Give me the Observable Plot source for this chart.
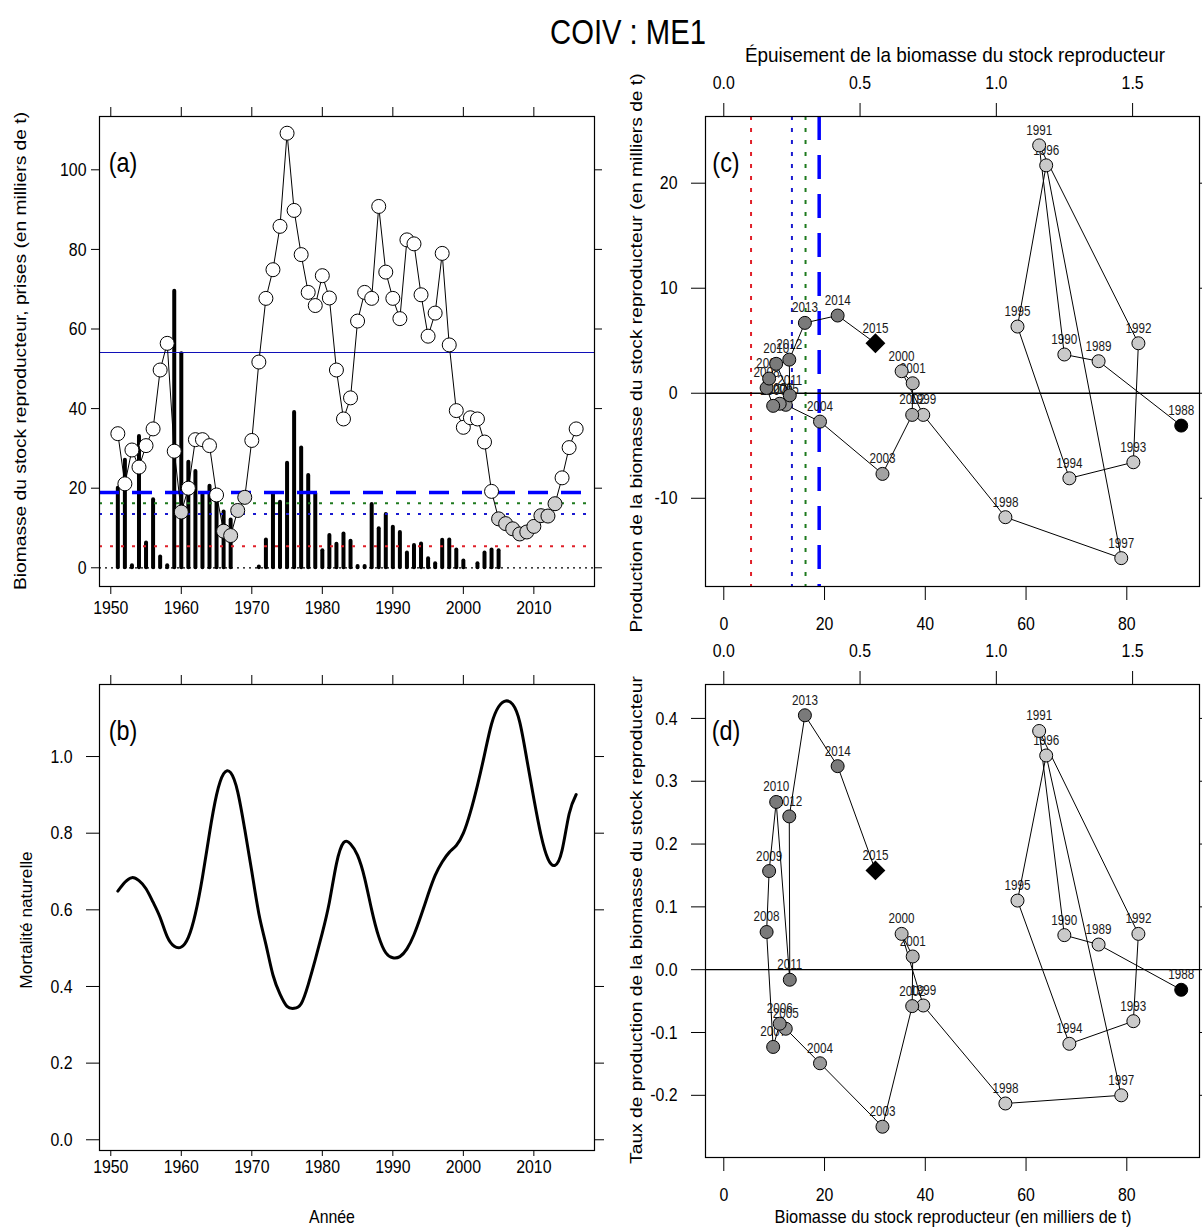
<!DOCTYPE html>
<html lang="fr">
<head>
<meta charset="utf-8">
<title>COIV : ME1</title>
<script src="https://cdn.jsdelivr.net/npm/d3@7"></script>
<script src="https://cdn.jsdelivr.net/npm/@observablehq/plot@0.6"></script>
<style>
  html, body { margin: 0; padding: 0; background: #fff; }
  #root { position: relative; width: 1202px; height: 1228px; overflow: hidden; background: #fff;
          font-family: "Liberation Sans", Arial, Helvetica, sans-serif; color: #000; }
  #root svg { position: absolute; left: 0; top: 0; overflow: visible; }
  .lbl { position: absolute; white-space: nowrap; line-height: 1; }
</style>
</head>
<body>
<div id="root"></div>
<script>
// ---------------- DATA ----------------
const years = [1951,1952,1953,1954,1955,1956,1957,1958,1959,1960,
  1961,1962,1963,1964,1965,1966,1967,1968,1969,1970,
  1971,1972,1973,1974,1975,1976,1977,1978,1979,1980,
  1981,1982,1983,1984,1985,1986,1987,1988,1989,1990,
  1991,1992,1993,1994,1995,1996,1997,1998,1999,2000,
  2001,2002,2003,2004,2005,2006,2007,2008,2009,2010,
  2011,2012,2013,2014,2015,2016];

// spawning stock biomass (thousand t)
const biomass = [33.7,21.1,29.6,25.3,30.7,34.9,49.7,56.4,29.3,14.0,
  20.0,32.2,32.2,30.7,18.3,9.2,8.1,14.4,17.7,32.0,
  51.7,67.7,74.9,85.8,109.2,89.8,78.7,69.2,65.9,73.4,
  67.8,49.7,37.4,42.7,62.0,69.2,67.7,90.8,74.3,67.7,
  62.6,82.4,81.4,68.6,58.2,64.0,79.0,56.0,39.5,35.3,
  37.7,37.4,31.6,19.2,12.3,11.1,9.8,8.5,9.0,10.4,
  13.1,13.0,16.1,22.6,30.2,34.9];

// catches (thousand t), null = no record
const catches = [20.0,27.0,0.5,33.0,6.2,17.1,2.7,0.5,69.5,53.8,
  26.5,24.2,18.4,20.5,16.7,14.0,12.0,null,null,null,
  0.2,7.0,18.6,16.5,26.3,39.0,30.1,23.2,18.7,4.3,
  8.1,5.9,8.5,6.7,0.3,0.3,15.9,9.8,13.4,10.2,
  8.9,3.7,5.6,6.0,2.3,1.0,6.9,7.0,4.5,1.7,
  null,1.0,3.7,4.5,4.3,null,null,null,null,null,
  null,null,null,null,null,null];

// years drawn with grey symbols in panel (a)
const greyYears = [1960,1966,1967,1968,1969,2005,2006,2007,2008,2009,2010,2011,2012,2013];

// natural mortality
const mortality = [0.649,0.672,0.684,0.676,0.655,0.620,0.580,0.530,0.505,0.503,
  0.528,0.590,0.685,0.800,0.900,0.955,0.958,0.908,0.810,0.700,
  0.590,0.510,0.430,0.380,0.348,0.343,0.355,0.405,0.470,0.540,
  0.620,0.720,0.775,0.772,0.742,0.683,0.600,0.530,0.488,0.475,
  0.478,0.498,0.535,0.585,0.640,0.690,0.725,0.750,0.768,0.800,
  0.855,0.925,1.005,1.085,1.130,1.145,1.136,1.090,0.993,0.890,
  0.796,0.733,0.716,0.755,0.850,0.901];

// reference points
const B0 = 54.1;
const refFractions = [0.10, 0.25, 0.30, 0.35];
const depletionTicks = [0, 0.5, 1.0, 1.5];

// production panels (c) and (d)
const prodYears = [1988,1989,1990,1991,1992,1993,1994,1995,1996,1997,
  1998,1999,2000,2001,2002,2003,2004,2005,2006,2007,
  2008,2009,2010,2011,2012,2013,2014,2015];
const prodBiomass = [90.8,74.4,67.6,62.6,82.3,81.3,68.6,58.3,64.0,78.9,
  55.9,39.6,35.3,37.5,37.4,31.5,19.1,12.3,11.1,9.8,
  8.5,9.0,10.4,13.1,13.0,16.1,22.6,30.1];
const production = [-3.08,3.05,3.69,23.6,4.76,-6.57,-8.10,6.35,21.7,-15.7,
  -11.8,-2.06,2.10,0.95,-2.06,-7.68,-2.70,-1.1,-1.0,-1.2,
  0.5,1.4,2.8,-0.2,3.2,6.7,7.4,4.76];
const prodRate = [-0.032,0.040,0.055,0.380,0.057,-0.082,-0.118,0.110,0.341,-0.200,
  -0.213,-0.057,0.057,0.021,-0.058,-0.250,-0.149,-0.094,-0.086,-0.123,
  0.060,0.157,0.267,-0.016,0.244,0.405,0.324,0.158];

// axis ticks
const yearTicks = [1950,1960,1970,1980,1990,2000,2010];
const bioTicks = [0,20,40,60,80,100];
const mTicks = [0,0.2,0.4,0.6,0.8,1.0];
const bTicks = [0,20,40,60,80];
const pTicks = [-10,0,10,20];
const rTicks = [-0.2,-0.1,0,0.1,0.2,0.3,0.4];

// ---------------- DRAWING ----------------
const W = 1202, H = 1228;
const FONT = '"Liberation Sans", Arial, Helvetica, sans-serif';
const K = 0.835;      // horizontal glyph compression
const FS = 19;        // tick label size
const root = document.getElementById("root");

const series = years.map((y, i) => ({year: y, b: biomass[i], c: catches[i], m: mortality[i]}));
const catchRows = series.filter(d => d.c != null);
const prodRows = prodYears.map((y, i) => ({year: y, b: prodBiomass[i], p: production[i], r: prodRate[i]}));
const refRows = refFractions.map(f => ({f, v: f * B0}));

function squeeze(svg, k) {
  svg.querySelectorAll("text").forEach(t => {
    const L = t.getComputedTextLength();
    if (L > 0) {
      t.setAttribute("textLength", (L * k).toFixed(2));
      t.setAttribute("lengthAdjust", "spacingAndGlyphs");
    }
  });
}

function addPlot(frame, xd, yd, marks) {
  const svg = Plot.plot({
    width: W, height: H,
    marginLeft: frame[0], marginRight: W - frame[1], marginTop: frame[2], marginBottom: H - frame[3],
    x: {domain: xd}, y: {domain: yd},
    color: {type: "identity"},
    style: {fontFamily: FONT, fontSize: FS + "px", color: "black", background: "transparent", overflow: "visible"},
    marks
  });
  root.appendChild(svg);
  squeeze(svg, K);
  return svg;
}

function axes(o) {
  return [
    Plot.axisX({anchor: "bottom", ticks: o.xt, tickSize: o.bTick, tickPadding: o.bPad, tickFormat: o.xf, fontSize: FS, label: null}),
    Plot.axisX({anchor: "top", ticks: o.topT || o.xt, tickSize: o.tTick, tickPadding: o.tPad || 3, tickFormat: o.topF || (() => ""), fontSize: FS, label: null}),
    Plot.axisY({anchor: "left", ticks: o.yt, tickSize: o.lTick, tickPadding: o.lPad, tickFormat: o.yf, fontSize: FS, label: null}),
    Plot.axisY({anchor: "right", ticks: o.yt, tickSize: o.rTick, tickFormat: () => "", label: null})
  ];
}

function label(txt, cx, cy, size, opts = {}) {
  const d = document.createElement("div");
  d.className = "lbl";
  d.textContent = txt;
  d.style.fontSize = size + "px";
  d.style.left = cx + "px";
  d.style.top = cy + "px";
  d.style.transform = opts.rotate
    ? `translate(-50%,-50%) rotate(-90deg) scale(${opts.stretch || 1.2},1)`
    : `translate(-50%,-50%) scale(${opts.k || K},1)`;
  root.appendChild(d);
}

const refStyle = [
  {stroke: "#e0202a", strokeWidth: 2, strokeDasharray: "3,8"},
  {stroke: "#1a1ad0", strokeWidth: 2, strokeDasharray: "3,8"},
  {stroke: "#1e7a1e", strokeWidth: 2, strokeDasharray: "3,8"},
  {stroke: "#0000ff", strokeWidth: 3.5, strokeDasharray: "20,13"}
];

// ---------- Panel (a) ----------
addPlot([99, 594, 116, 586], [1948.4, 2018.6], [-4.7, 113.4], [
  Plot.ruleX(catchRows, {x: "year", y1: 0, y2: "c", stroke: "black", strokeWidth: 4, strokeLinecap: "round"}),
  Plot.ruleY([0], {stroke: "black", strokeWidth: 1.2, strokeDasharray: "2,4"}),
  ...refRows.map((r, i) => Plot.ruleY([r.v], refStyle[i])),
  Plot.ruleY([B0], {stroke: "#1010b8", strokeWidth: 1.2}),
  Plot.line(series, {x: "year", y: "b", stroke: "black", strokeWidth: 1}),
  Plot.dot(series, {x: "year", y: "b", r: 7, stroke: "black", strokeWidth: 1,
    fill: d => greyYears.includes(d.year) ? "#d0d0d0" : "white"}),
  Plot.frame({stroke: "black", strokeWidth: 1.2}),
  ...axes({xt: yearTicks, yt: bioTicks, xf: d => String(d), yf: d => String(d),
    bTick: 8, bPad: 6, tTick: 10, lTick: 8, lPad: 5, rTick: 7})
]);

// ---------- Panel (b) ----------
addPlot([99, 594, 684, 1150], [1948.4, 2018.6], [-0.028, 1.188], [
  Plot.line(series, {x: "year", y: "m", curve: "natural", stroke: "black", strokeWidth: 3}),
  Plot.frame({stroke: "black", strokeWidth: 1.2}),
  ...axes({xt: yearTicks, yt: mTicks, xf: d => String(d), yf: d => d.toFixed(1),
    bTick: 6, bPad: 3, tTick: 10, lTick: 13, lPad: 14, rTick: 9})
]);

const ptFill = d3.scaleLinear().domain([1998, 2008]).range(["#cacaca", "#7a7a7a"]).clamp(true);
const fillFor = d => d.year === prodYears[0] ? "black" : ptFill(d.year);
const lastYear = prodYears[prodYears.length - 1];

function prodMarks(yKey) {
  return [
    Plot.text(prodRows, {x: "b", y: yKey, text: d => String(d.year), dy: -15, fontSize: 14, fill: "#1a1a1a"}),
    Plot.line(prodRows, {x: "b", y: yKey, stroke: "black", strokeWidth: 1}),
    Plot.dot(prodRows.filter(d => d.year !== lastYear), {x: "b", y: yKey, r: 6.5, stroke: "black", strokeWidth: 1, fill: fillFor}),
    Plot.dot(prodRows.filter(d => d.year === lastYear), {x: "b", y: yKey, r: 8, symbol: "diamond2", fill: "black", stroke: "black"})
  ];
}

// ---------- Panel (c) ----------
addPlot([705, 1199, 116, 586], [-3.63, 94.43], [-18.4, 26.35], [
  ...refRows.map((r, i) => Plot.ruleX([r.v], {...refStyle[i], strokeDasharray: i === 3 ? "24,15" : "4,8"})),
  Plot.ruleY([0], {stroke: "black", strokeWidth: 1.3}),
  ...prodMarks("p"),
  Plot.frame({stroke: "black", strokeWidth: 1.2}),
  ...axes({xt: bTicks, yt: pTicks, xf: d => String(d), yf: d => String(d),
    topT: depletionTicks.map(d => d * B0), topF: d => (d / B0).toFixed(1),
    bTick: 14, bPad: 16, tTick: 14, tPad: 14, lTick: 14, lPad: 14, rTick: 7})
]);

// ---------- Panel (d) ----------
addPlot([705, 1199, 684, 1157], [-3.63, 94.43], [-0.299, 0.454], [
  Plot.ruleY([0], {stroke: "black", strokeWidth: 1.3}),
  ...prodMarks("r"),
  Plot.frame({stroke: "black", strokeWidth: 1.2}),
  ...axes({xt: bTicks, yt: rTicks, xf: d => String(d), yf: d => d.toFixed(1),
    topT: depletionTicks.map(d => d * B0), topF: d => (d / B0).toFixed(1),
    bTick: 14, bPad: 16, tTick: 14, tPad: 14, lTick: 14, lPad: 14, rTick: 7})
]);

// ---------- Text ----------
label("COIV : ME1", 628, 31, 35);
label("Épuisement de la biomasse du stock reproducteur", 955, 54, 21, {k: 0.9});
label("Année", 332, 1216, 19);
label("Biomasse du stock reproducteur (en milliers de t)", 953, 1216, 19, {k: 0.865});
label("Biomasse du stock reproducteur, prises (en milliers de t)", 21, 351, 16, {rotate: true, stretch: 1.2});
label("Mortalité naturelle", 27, 920, 16, {rotate: true, stretch: 1.08});
label("Production de la biomasse du stock reproducteur (en milliers de t)", 637, 353, 16, {rotate: true, stretch: 1.2});
label("Taux de production de la biomasse du stock reproducteur", 637, 920, 16, {rotate: true, stretch: 1.2});
label("(a)", 123, 163, 28);
label("(b)", 123, 731, 28);
label("(c)", 726, 163, 28);
label("(d)", 726, 731, 28);
</script>
</body>
</html>
